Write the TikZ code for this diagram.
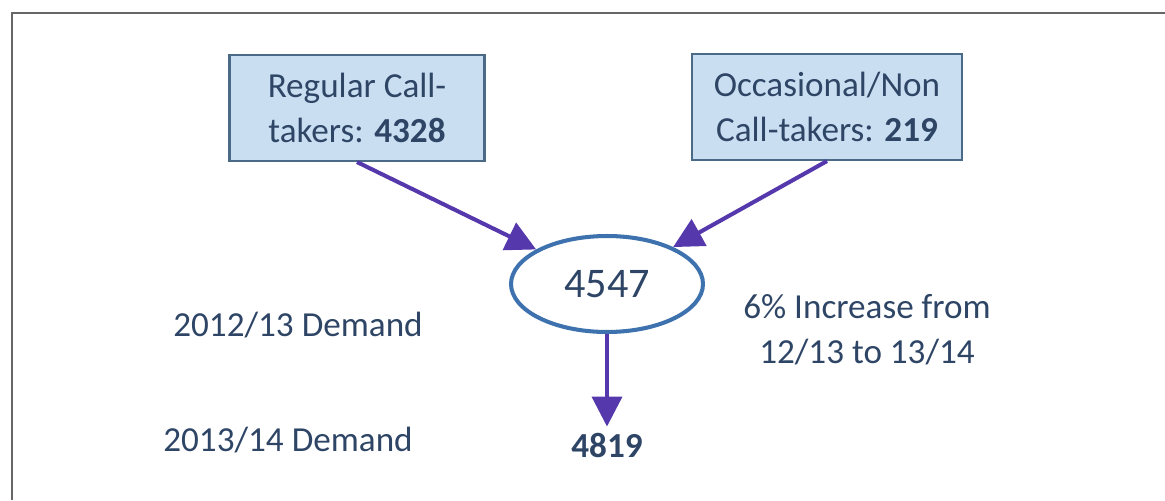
\documentclass[tikz,border=0pt]{standalone}
\usepackage{fontspec}
\setmainfont{Carlito}
\usetikzlibrary{positioning,shapes.geometric}
\usetikzlibrary{arrows.meta}

\definecolor{txtblue}{HTML}{2E4566}
\definecolor{boxfill}{HTML}{C9DEF0}
\definecolor{boxline}{HTML}{4A6A88}
\definecolor{arrowpurple}{HTML}{5438AC}
\definecolor{ringblue}{HTML}{3D72AE}

\tikzset{
	group/.style={draw=boxline, line width=1.2pt, fill=boxfill, text=txtblue, align=center, minimum width=5.1cm, minimum height=2.12cm},
	flow/.style={draw=arrowpurple, line width=2.3pt, -{Triangle[length=17pt,width=17pt]}},
	lbl/.style={text=txtblue, align=center}
}

\begin{document}
\begin{tikzpicture}[x=0.02cm, y=-0.02cm, font=\fontsize{20}{25.5}\selectfont]
		\useasboundingbox (0,0) rectangle (1165,500);
		\draw[gray!80!black, line width=1pt] (12,500) -- (12,13) -- (1165,13);
		
		\node[group] (regular) at (357,108) {Regular Call-\\takers: \textbf{4328}};
		\node[group, minimum width=5.4cm] (occasional) at (827,107) {Occasional/Non\\Call-takers: \textbf{219}};
		
		\node[ellipse, draw=ringblue, line width=2.3pt, fill=white, text=txtblue, minimum width=3.84cm, minimum height=1.92cm, font=\fontsize{24}{28}\selectfont] (total) at (607,284) {4547};
		
		\node[lbl] (demandA) at (298,325) {2012/13 Demand};
		\node[lbl] (demandB) at (288,440) {2013/14 Demand};
		\node[lbl] (increase) at (867,330) {6\% Increase from\\12/13 to 13/14};
		\node[lbl, font=\fontsize{20}{25.5}\selectfont\bfseries] (next) at (607,445) {4819};
		
		\draw[flow] (regular.south) -- (total);
		\draw[flow] (occasional.south) -- (total);
		\draw[flow] (total.south) -- (next.north);
	\end{tikzpicture}
\end{document}
